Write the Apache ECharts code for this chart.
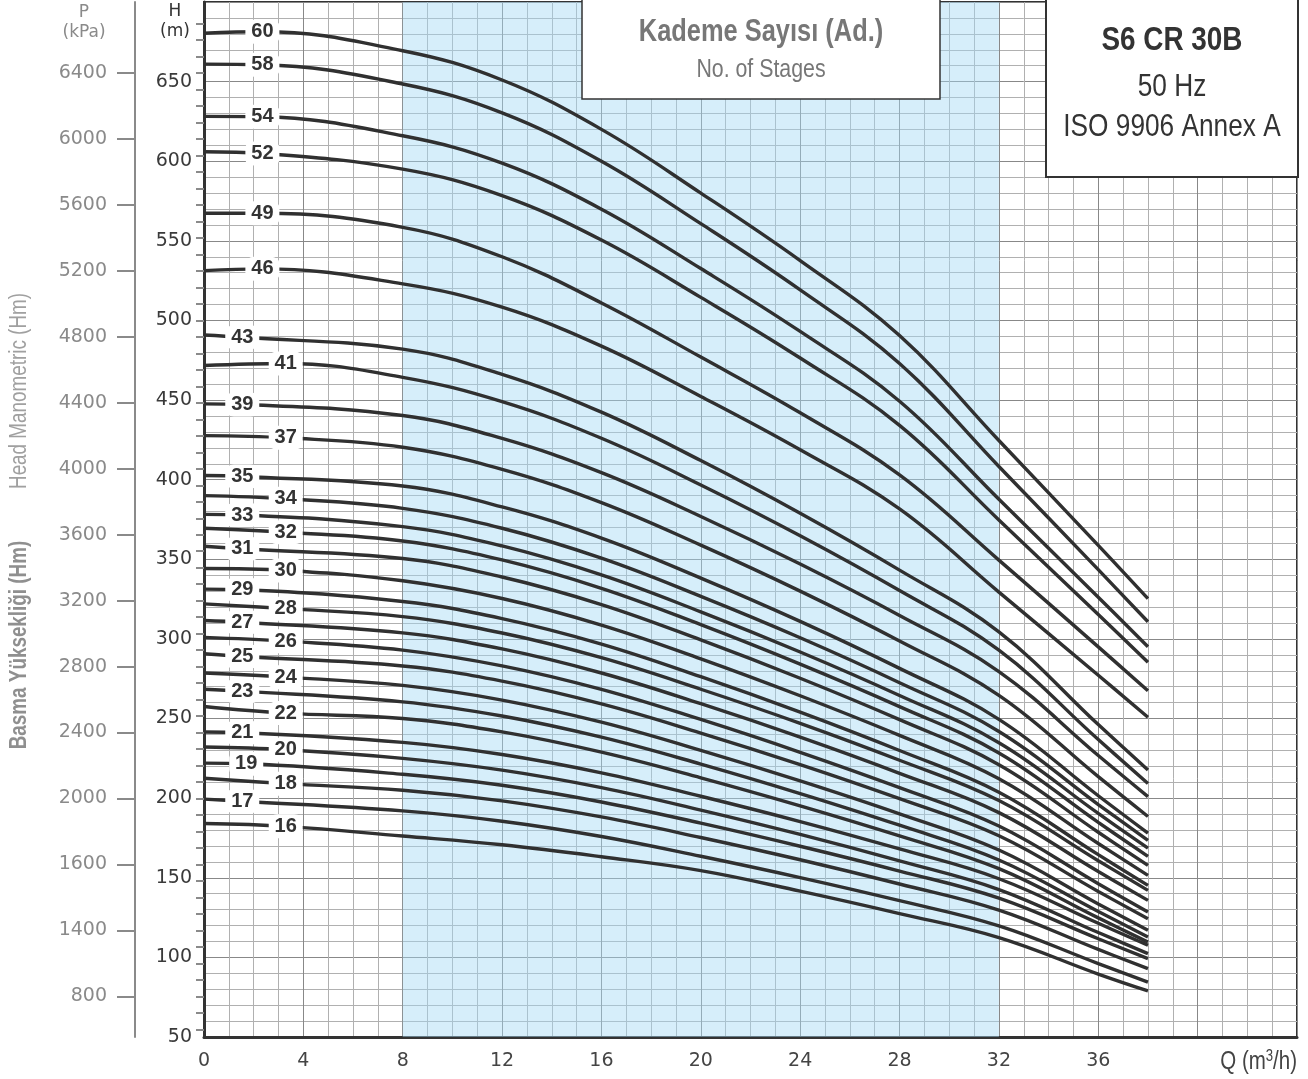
<!DOCTYPE html>
<html>
<head>
<meta charset="utf-8">
<script src="https://cdn.jsdelivr.net/npm/echarts@6/dist/echarts.min.js"></script>
<style>
html,body{margin:0;padding:0;background:#fff;}
#chart{width:1308px;height:1079px;}
</style>
</head>
<body>
<div id="chart"></div>
<script>
// ---- DATA ----
const qPoints = [0, 8, 12, 16, 20, 24, 28, 32, 36, 38];   // flow Q (m3/h)
const stages  = [60,58,54,52,49,46,43,41,39,37,35,34,33,32,31,30,29,28,27,26,25,24,23,22,21,20,19,18,17,16];

const head60 = [680.4, 669.4, 651.0, 620.0, 580.0, 537.6, 490.5, 424.6, 358.7, 325.3];
const head58 = [661.0, 648.5, 630.4, 600.0, 560.8, 519.2, 473.0, 408.3, 343.5, 310.8];
const head54 = [628.2, 616.0, 598.8, 569.9, 532.6, 493.1, 449.3, 387.7, 326.2, 295.1];
const head52 = [606.0, 595.0, 578.4, 550.5, 514.5, 476.4, 434.1, 374.7, 315.3, 285.3];
const head49 = [567.3, 558.5, 540.0, 511.0, 477.0, 442.0, 403.0, 349.5, 295.0, 267.4];
const head46 = [531.3, 523.0, 508.4, 483.9, 452.3, 418.8, 381.6, 329.4, 277.2, 250.8];
const head43 = [490.9, 482.0, 466.1, 442.4, 412.0, 378.9, 343.2, 304.4, 246.2, 217.7];
const head41 = [471.7, 464.3, 449.0, 426.0, 396.7, 364.8, 330.4, 292.9, 236.8, 209.2];
const head39 = [447.6, 440.3, 425.9, 404.4, 376.9, 347.0, 314.7, 279.5, 226.8, 201.0];
const head37 = [427.7, 420.4, 406.5, 385.6, 358.9, 330.0, 298.7, 264.6, 213.5, 188.5];
const head35 = [402.6, 396.0, 382.9, 363.3, 338.2, 311.0, 281.5, 249.5, 201.5, 178.0];
const head34 = [390.0, 382.0, 369.5, 350.7, 326.7, 300.7, 272.5, 241.9, 196.0, 173.5];
const head33 = [378.2, 370.5, 358.4, 340.2, 317.0, 291.8, 264.5, 234.8, 190.4, 168.6];
const head32 = [369.5, 361.5, 349.6, 331.8, 309.0, 284.2, 257.5, 228.4, 184.8, 163.4];
const head31 = [358.2, 350.5, 338.9, 321.6, 299.4, 275.3, 249.3, 221.0, 178.6, 157.8];
const head30 = [344.2, 336.5, 325.4, 308.7, 287.5, 264.3, 239.4, 212.2, 171.5, 151.5];
const head29 = [331.3, 323.5, 312.8, 296.8, 276.3, 254.0, 229.9, 203.7, 164.5, 145.2];
const head28 = [322.0, 314.0, 303.7, 288.2, 268.4, 247.0, 223.8, 198.5, 160.7, 142.1];
const head27 = [311.6, 303.8, 293.7, 278.6, 259.3, 238.3, 215.6, 190.9, 153.9, 135.8];
const head26 = [301.0, 293.0, 283.1, 268.3, 249.4, 228.8, 206.6, 182.5, 146.3, 128.5];
const head25 = [290.7, 283.0, 273.5, 259.2, 240.9, 221.1, 199.7, 176.4, 141.4, 124.3];
const head24 = [278.6, 270.8, 261.6, 247.7, 230.0, 210.8, 190.1, 167.4, 133.6, 117.0];
const head23 = [268.4, 260.5, 251.6, 238.3, 221.4, 202.9, 183.0, 161.2, 128.8, 112.8];
const head22 = [257.6, 250.0, 241.6, 228.9, 212.8, 195.2, 176.3, 155.7, 124.8, 109.6];
const head21 = [241.5, 235.0, 227.4, 215.9, 201.2, 185.3, 168.1, 149.4, 121.4, 107.6];
const head20 = [232.1, 225.0, 217.6, 206.6, 192.5, 177.2, 160.6, 142.6, 115.6, 102.4];
const head19 = [222.0, 215.0, 208.1, 197.6, 184.3, 169.8, 154.2, 137.2, 111.7, 99.2];
const head18 = [212.5, 205.0, 198.3, 188.2, 175.3, 161.3, 146.1, 129.7, 105.0, 92.9];
const head17 = [199.4, 192.0, 185.5, 175.9, 163.5, 150.1, 135.6, 119.8, 96.1, 84.5];
const head16 = [184.1, 176.2, 170.7, 163.2, 154.5, 141.6, 127.5, 112.4, 89.5, 78.9];

const heads = [head60, head58, head54, head52, head49, head46, head43, head41, head39, head37,
               head35, head34, head33, head32, head31, head30, head29, head28, head27, head26,
               head25, head24, head23, head22, head21, head20, head19, head18, head17, head16];

// where each stage label sits on its curve (Q, H)
const labelQ = [2.35,2.35,2.35,2.35,2.35,2.35,1.54,3.29,1.54,3.29,1.54,3.29,1.54,3.29,1.54,3.29,1.54,3.29,1.54,3.29,1.54,3.29,1.54,3.29,1.54,3.29,1.7,3.29,1.54,3.29];
const labelH = [681.3,660.6,627.9,604.9,567.3,532.4,489.5,473.0,447.2,426.3,402.0,388.0,377.8,367.0,356.6,343.0,330.9,319.0,310.5,298.6,289.0,276.0,267.2,253.4,241.1,230.4,221.6,209.1,198.1,182.3];

// shaded operating band (Q)
const bandStart = 8;
const bandEnd = 32;

// tick labels
const xTickLabels = ['0','4','8','12','16','20','24','28','32','36'];
const hTickLabels = ['50','100','150','200','250','300','350','400','450','500','550','600','650'];
const pTickValues = [800,1200,1600,2000,2400,2800,3200,3600,4000,4400,4800,5200,5600,6000,6400];
const pTickLabels = ['800','1400','1600','2000','2400','2800','3200','3600','4000','4400','4800','5200','5600','6000','6400'];
const pMin = 553, pMax = 6832;
const pMinorTicks = [];
for (let v = 600; v <= 6700; v += 100) pMinorTicks.push(v);

// ---- CHART ----
const chart = echarts.init(document.getElementById('chart'), null, {renderer: 'canvas'});
const NARROW = '"Liberation Sans", Arial, sans-serif';
const SANS = '"DejaVu Sans", sans-serif';
const SQ = 0.82; // horizontal condensing of the annotation text

const series = [{
  type: 'line', data: [], silent: true,
  markArea: {
    silent: true,
    itemStyle: {color: 'rgba(164,217,244,0.45)'},
    data: [[{xAxis: bandStart}, {xAxis: bandEnd}]]
  }
}];

stages.forEach((n, i) => {
  const h = heads[i];
  const data = [[qPoints[0], h[0]], [labelQ[i], labelH[i]]];
  for (let k = 1; k < qPoints.length; k++) data.push([qPoints[k], h[k]]);
  series.push({
    type: 'line', name: String(n), data: data,
    smooth: 0.4,
    showSymbol: false, symbol: 'none', silent: true, z: 3,
    lineStyle: {color: '#303030', width: 3.4},
    markPoint: {
      silent: true,
      symbol: 'roundRect',
      symbolSize: [34, 24],
      itemStyle: {color: '#fff'},
      label: {
        show: true, position: 'inside', formatter: String(n),
        color: '#333', fontFamily: NARROW, fontWeight: 'bold', fontSize: 20
      },
      data: [{coord: [labelQ[i], labelH[i]]}]
    }
  });
});

function txt(x, y, text, font, fill, extra) {
  return Object.assign({type: 'text', z: 101, x: x, y: y, scaleX: SQ,
    style: {text: text, fill: fill, font: font, align: 'center', verticalAlign: 'middle'}}, extra || {});
}

const option = {
  animation: false,
  backgroundColor: '#fff',
  grid: {left: 204, right: 11, top: 2, bottom: 42, show: true, borderColor: '#333', borderWidth: 2},
  xAxis: {
    type: 'value', min: 0, max: 44, interval: 4,
    axisLine: {show: true, onZero: false, lineStyle: {color: '#333', width: 3}},
    axisTick: {show: false},
    axisLabel: {
      margin: 15, color: '#444', fontFamily: SANS, fontSize: 19,
      formatter: v => (xTickLabels[Math.round(v / 4)] !== undefined ? xTickLabels[Math.round(v / 4)] : '')
    },
    splitLine: {show: true, lineStyle: {color: '#888', width: 1}},
    minorTick: {show: false, splitNumber: 4},
    minorSplitLine: {show: true, lineStyle: {color: '#b0b0b0', width: 1}}
  },
  yAxis: [
    {
      type: 'value', min: 50, max: 700, interval: 50, position: 'left',
      axisLine: {show: true, onZero: false, lineStyle: {color: '#333', width: 3}},
      axisTick: {show: false},
      axisLabel: {
        margin: 12, color: '#3a3a3a', fontFamily: SANS, fontSize: 19,
        formatter: v => { const i = Math.round((v - 50) / 50); return hTickLabels[i] !== undefined ? hTickLabels[i] : ''; }
      },
      splitLine: {show: true, lineStyle: {color: '#888', width: 1}},
      minorTick: {show: false, splitNumber: 5},
      minorSplitLine: {show: true, lineStyle: {color: '#b0b0b0', width: 1}}
    },
    {
      type: 'value', min: pMin, max: pMax, position: 'left', offset: 69,
      axisLine: {show: true, onZero: false, lineStyle: {color: '#8a8a8a', width: 2}},
      axisTick: {show: true, length: 18, customValues: pTickValues, lineStyle: {color: '#8a8a8a', width: 2}},
      axisLabel: {
        show: true, customValues: pTickValues, margin: 28, color: '#8a8a8a', fontFamily: SANS, fontSize: 19,
        formatter: v => { const i = pTickValues.indexOf(v); return i >= 0 ? pTickLabels[i] : ''; }
      },
      splitLine: {show: false}
    },
    {
      type: 'value', min: pMin, max: pMax, position: 'left', offset: 69,
      axisLine: {show: false},
      axisTick: {show: true, length: 8, customValues: pMinorTicks, lineStyle: {color: '#8a8a8a', width: 2}},
      axisLabel: {show: false},
      splitLine: {show: false}
    }
  ],
  series: series,
  graphic: [
    {type: 'rect', z: 100, shape: {x: 582, y: -2, width: 358, height: 101},
     style: {fill: '#fff', stroke: '#333', lineWidth: 1.5}},
    txt(761, 32, 'Kademe Sayısı (Ad.)', 'bold 31px ' + NARROW, '#777'),
    txt(761, 70, 'No. of Stages', '26px ' + NARROW, '#777'),

    {type: 'rect', z: 100, shape: {x: 1046, y: -2, width: 252, height: 179},
     style: {fill: '#fff', stroke: '#333', lineWidth: 2}},
    txt(1172, 41, 'S6 CR 30B', 'bold 34px ' + NARROW, '#333'),
    txt(1172, 87, '50 Hz', '32px ' + NARROW, '#333'),
    txt(1172, 127, 'ISO 9906 Annex A', '32px ' + NARROW, '#333'),

    txt(84, 13, 'P', '17px ' + SANS, '#8a8a8a', {scaleX: 1}),
    txt(84, 33, '(kPa)', '17px ' + SANS, '#8a8a8a', {scaleX: 1}),
    txt(175, 12, 'H', '17px ' + SANS, '#333', {scaleX: 1}),
    txt(175, 32, '(m)', '17px ' + SANS, '#333', {scaleX: 1}),

    txt(20, 391, 'Head Manometric (Hm)', '23px ' + NARROW, '#a0a0a0', {rotation: Math.PI / 2}),
    txt(20, 645, 'Basma Yüksekliği (Hm)', 'bold 23px ' + NARROW, '#8f8f8f', {rotation: Math.PI / 2}),

    {type: 'text', z: 101, x: 1297, y: 1062, scaleX: SQ,
     style: {
       text: '{a|Q (m}{s|3}{a|/h)}', align: 'right', verticalAlign: 'middle',
       rich: {
         a: {fill: '#444', fontFamily: NARROW, fontSize: 25, lineHeight: 26},
         s: {fill: '#444', fontFamily: NARROW, fontSize: 16, verticalAlign: 'top', lineHeight: 26}
       }
     }}
  ]
};
chart.setOption(option);
</script>
</body>
</html>
